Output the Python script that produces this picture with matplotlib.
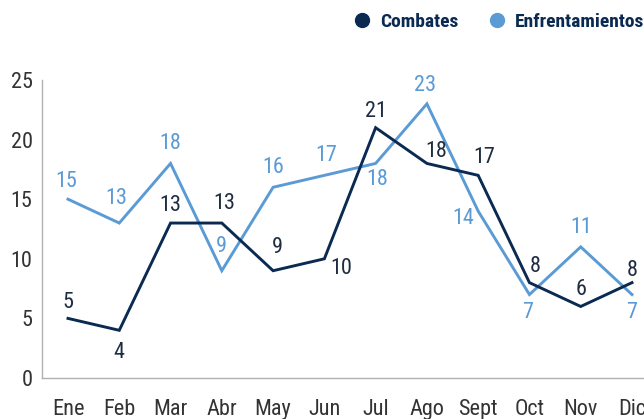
import matplotlib

matplotlib.use("Agg")
import matplotlib.pyplot as plt
from matplotlib.lines import Line2D

plt.rcParams["font.family"] = ["Roboto Condensed", "Liberation Sans Narrow", "Roboto", "DejaVu Sans"]

MONTHS = ["Ene", "Feb", "Mar", "Abr", "May", "Jun", "Jul", "Ago", "Sept", "Oct", "Nov", "Dic"]
COMBATES = [5, 4, 13, 13, 9, 10, 21, 18, 17, 8, 6, 8]
ENFRENTAMIENTOS = [15, 13, 18, 9, 16, 17, 18, 23, 14, 7, 11, 7]

NAVY = "#0a2a52"
NAVY_TXT = "#1e2d42"
BLUE = "#5b9bd5"
GRAY = "#333333"

# label offsets in pixels (dx, dy), converted to points below
OFF_C = [(0, 16), (0, -22), (0, 18), (2, 20), (4, 23), (17, -10),
         (0, 16), (9, 12), (6, 18), (6, 16), (0, 17), (0, 12)]
OFF_E = [(-2, 18), (-3, 25), (0, 20), (0, 24), (0, 20), (2, 20),
         (2, -16), (-2, 18), (-15, -7), (-2, -18), (0, 19), (0, -18)]

W, H = 644, 419
fig = plt.figure(figsize=(W / 100, H / 100), dpi=100)
step = (632 - 68) / 11
left = 68 - step / 2
ax = fig.add_axes([left / W, (H - 378) / H, 12 * step / W, (378 - 80) / H])

x = list(range(len(MONTHS)))
ax.plot(x, ENFRENTAMIENTOS, color=BLUE, lw=2.1, solid_joinstyle="miter", zorder=3)
ax.plot(x, COMBATES, color=NAVY, lw=2.1, solid_joinstyle="miter", zorder=4)

for i, v in enumerate(COMBATES):
    dx, dy = OFF_C[i]
    ax.annotate(str(v), (i, v), xytext=(dx * 0.72, dy * 0.72), textcoords="offset points",
                ha="center", va="center", fontsize=16, color=NAVY_TXT, annotation_clip=False)
for i, v in enumerate(ENFRENTAMIENTOS):
    dx, dy = OFF_E[i]
    ax.annotate(str(v), (i, v), xytext=(dx * 0.72, dy * 0.72), textcoords="offset points",
                ha="center", va="center", fontsize=16, color=BLUE, annotation_clip=False)

ax.set_xlim(-0.5, 11.5)
ax.set_ylim(0, 25)
ax.set_yticks([0, 5, 10, 15, 20, 25])
ax.set_xticks(x)
ax.set_xticklabels(MONTHS)
ax.tick_params(axis="both", length=0, labelsize=16, labelcolor=GRAY)
ax.tick_params(axis="x", pad=15)
ax.tick_params(axis="y", pad=7)
for s in ["top", "right"]:
    ax.spines[s].set_visible(False)
for s in ["left", "bottom"]:
    ax.spines[s].set_color("#b0b0b0")
    ax.spines[s].set_linewidth(1.0)

handles = [
    Line2D([], [], marker="o", ls="none", color=NAVY, markersize=10),
    Line2D([], [], marker="o", ls="none", color=BLUE, markersize=10),
]
leg = fig.legend(handles, ["Combates", "Enfrentamientos"], ncol=2, loc="center right",
                 bbox_to_anchor=(644 / W, 1 - 22 / H), frameon=False, handletextpad=0.4,
                 columnspacing=1.5, handlelength=1.0, borderaxespad=0, borderpad=0,
                 prop={"weight": "bold", "size": 14})
for t in leg.get_texts():
    t.set_color(NAVY)

fig.savefig("out.png", dpi=100)
